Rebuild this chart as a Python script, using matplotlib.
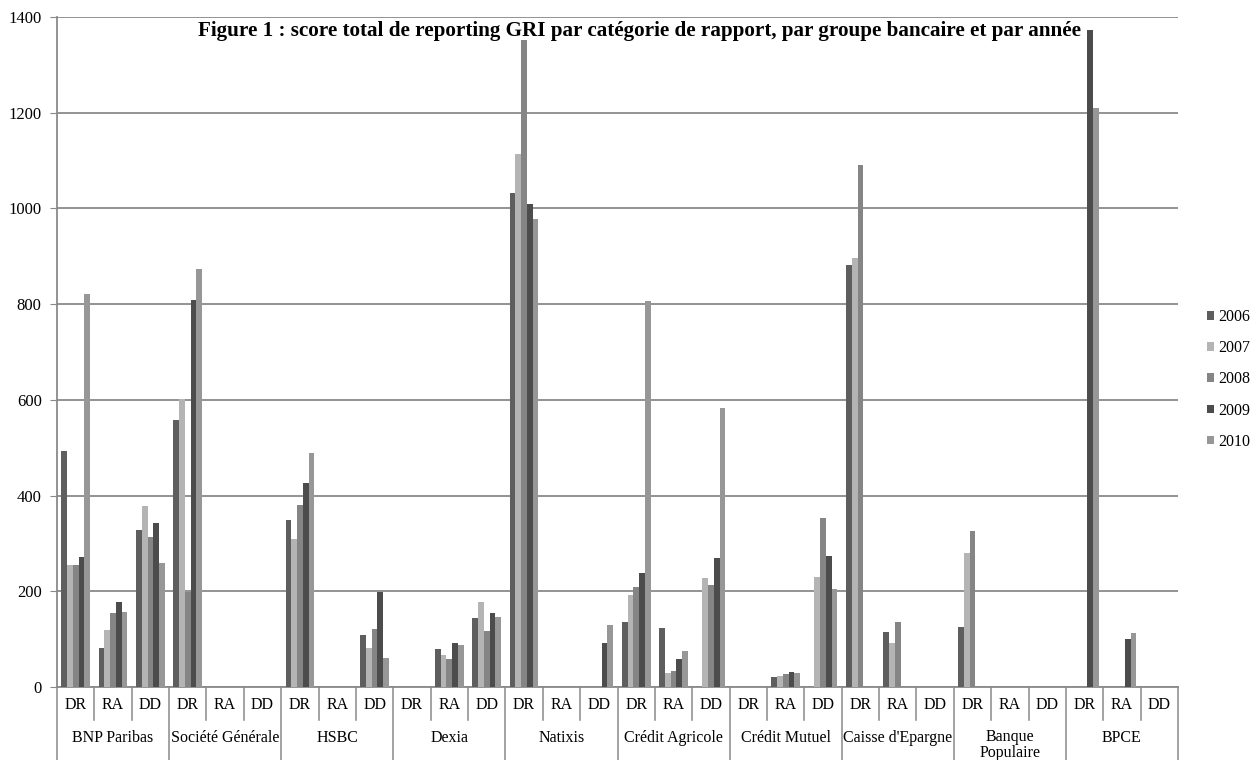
import matplotlib
matplotlib.use("Agg")
import matplotlib.pyplot as plt
import numpy as np

plt.rcParams['font.family'] = ['Liberation Serif', 'DejaVu Serif']

groups = ["BNP Paribas", "Société Générale", "HSBC", "Dexia", "Natixis",
          "Crédit Agricole", "Crédit Mutuel", "Caisse d'Epargne",
          "Banque\nPopulaire", "BPCE"]
subcats = ["DR", "RA", "DD"]
years = ["2006", "2007", "2008", "2009", "2010"]

# values per year, 30 categories (group x DR/RA/DD); 0 = no bar
v2006 = [493, 82, 328,  558, 0, 0,  348, 0, 108,  0, 80, 144,  1032, 0, 0,
         135, 124, 0,   0, 21, 0,   881, 115, 0,   126, 0, 0,   0, 0, 0]
v2007 = [255, 119, 378, 602, 0, 0,  309, 0, 82,   0, 67, 177,  1113, 0, 0,
         192, 30, 227,  0, 24, 230, 897, 91, 0,    280, 0, 0,   0, 0, 0]
v2008 = [255, 154, 313, 199, 0, 0,  381, 0, 122,  0, 58, 118,  1352, 0, 0,
         209, 34, 213,  0, 28, 353, 1090, 135, 0,  327, 0, 0,   0, 0, 0]
v2009 = [271, 178, 343, 809, 0, 0,  427, 0, 199,  0, 91, 155,  1009, 0, 91,
         239, 58, 269,  0, 31, 274, 0, 0, 0,       0, 0, 0,     1373, 101, 0]
v2010 = [822, 157, 259, 873, 0, 0,  488, 0, 61,   0, 87, 146,  978, 0, 129,
         806, 75, 582,  0, 29, 205, 0, 0, 0,       0, 0, 0,     1210, 112, 0]
series = [v2006, v2007, v2008, v2009, v2010]
colors = ["#5e5e5e", "#b4b4b4", "#858585", "#4c4c4c", "#979797"]

FS = 11.5
W, H = 1250, 760
fig = plt.figure(figsize=(W / 100, H / 100), dpi=100)
left, right, top, bottom = 57, 1178, 17, 687
ax = fig.add_axes([left / W, 1 - bottom / H, (right - left) / W, (bottom - top) / H])

n = len(groups) * len(subcats)
bw = 1 / 6.5
x = np.arange(n) + 0.5
for j, (vals, c, yr) in enumerate(zip(series, colors, years)):
    ax.bar(x + (j - 2) * bw, vals, width=bw, color=c, label=yr, zorder=3,
           linewidth=0)

ax.set_xlim(0, n)
ax.set_ylim(0, 1400)
ax.set_yticks(np.arange(0, 1401, 200))
ax.tick_params(axis='y', length=5, color="#888888", labelsize=12, pad=6)
ax.tick_params(axis='x', length=0, labelbottom=False)
ax.grid(axis='y', color="#8a8a8a", linewidth=1.3, zorder=0)
for s in ['top', 'right']:
    ax.spines[s].set_visible(False)
for s in ['left', 'bottom']:
    ax.spines[s].set_color("#8a8a8a")
    ax.spines[s].set_linewidth(1.3)
ax.set_xticks([])

# category axis: separators and labels
axh = bottom - top
short_y = -33 / axh
long_y = -73 / axh
trans = ax.get_xaxis_transform()
for i in range(n + 1):
    yb = long_y if i % 3 == 0 else short_y
    ax.plot([i, i], [0, yb], transform=trans, color="#8a8a8a", lw=1.1,
            clip_on=False)
for i in range(n):
    ax.text(i + 0.5, -18 / axh, subcats[i % 3], transform=trans, ha='center',
            va='center', fontsize=FS)
for g, name in enumerate(groups):
    if "\n" in name:
        ax.text(g * 3 + 1.5, -58 / axh, name, transform=trans, ha='center',
                va='center', fontsize=FS, linespacing=1.05)
    else:
        ax.text(g * 3 + 1.5, -51 / axh, name, transform=trans, ha='center',
                va='center', fontsize=FS)

fig.text(639 / W, 1 - 31 / H,
         "Figure 1 : score total de reporting GRI par catégorie de rapport, par groupe bancaire et par année",
         ha='center', va='center', fontsize=15.2, fontweight='bold', zorder=10)

ax.legend(loc='upper left', bbox_to_anchor=(1207 / W, 1 - 309 / H),
          bbox_transform=fig.transFigure, frameon=False, fontsize=FS,
          handlelength=0.45, handleheight=0.45, handletextpad=0.25,
          labelspacing=0.95, borderpad=0, borderaxespad=0)

fig.savefig("out.png", dpi=100)
